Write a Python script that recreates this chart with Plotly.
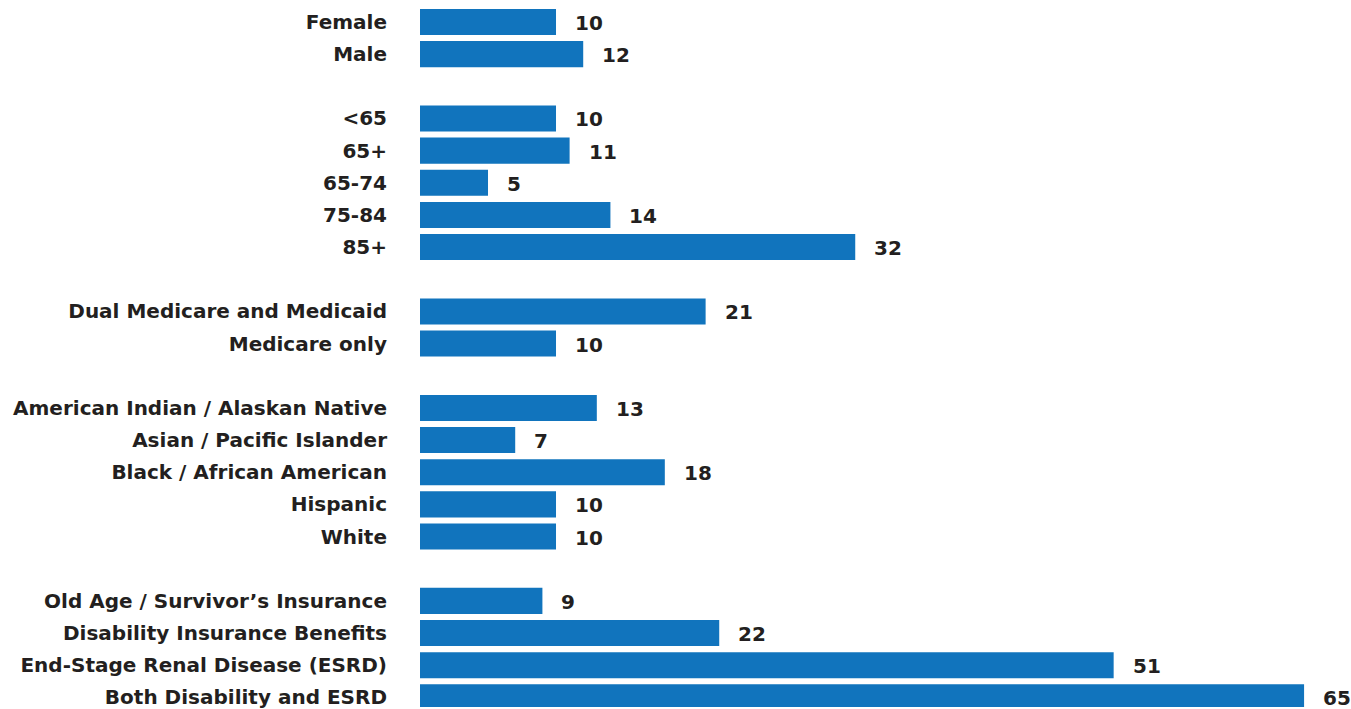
import plotly.graph_objects as go

categories = ["Female", "Male", " ",
              "<65", "65+", "65-74", "75-84", "85+", "  ",
              "Dual Medicare and Medicaid", "Medicare only", "   ",
              "American Indian / Alaskan Native", "Asian / Pacific Islander",
              "Black / African American", "Hispanic", "White", "    ",
              "Old Age / Survivor’s Insurance", "Disability Insurance Benefits",
              "End-Stage Renal Disease (ESRD)", "Both Disability and ESRD"]
values = [10, 12, None,
          10, 11, 5, 14, 32, None,
          21, 10, None,
          13, 7, 18, 10, 10, None,
          9, 22, 51, 65]

BAR = "#1174BD"
TXT = "#231F20"
FONT = "DejaVu Sans"

fig = go.Figure()
fig.add_trace(go.Bar(
    y=categories, x=values, orientation="h",
    marker=dict(color=BAR, line=dict(width=0)),
    hoverinfo="skip",
))

for c, v in zip(categories, values):
    if v is None:
        continue
    fig.add_annotation(x=v, y=c, text=str(v), showarrow=False,
                       xanchor="left", yanchor="middle", xshift=17, yshift=-1,
                       font=dict(family=FONT, size=20, color=TXT, weight="bold"))

fig.update_layout(
    width=1351, height=709,
    margin=dict(l=420, r=0, t=0, b=0),
    paper_bgcolor="white", plot_bgcolor="white",
    bargap=0.19,
    showlegend=False,
    xaxis=dict(range=[0, 68.45], visible=False, fixedrange=True),
    yaxis=dict(
        type="category",
        categoryorder="array", categoryarray=categories,
        range=[21.3, -0.683],
        showgrid=False, zeroline=False, showline=False,
        ticks="", ticklabelstandoff=32,
        tickfont=dict(family=FONT, size=20, color=TXT, weight="bold"),
    ),
)

fig.write_html("out.html")
